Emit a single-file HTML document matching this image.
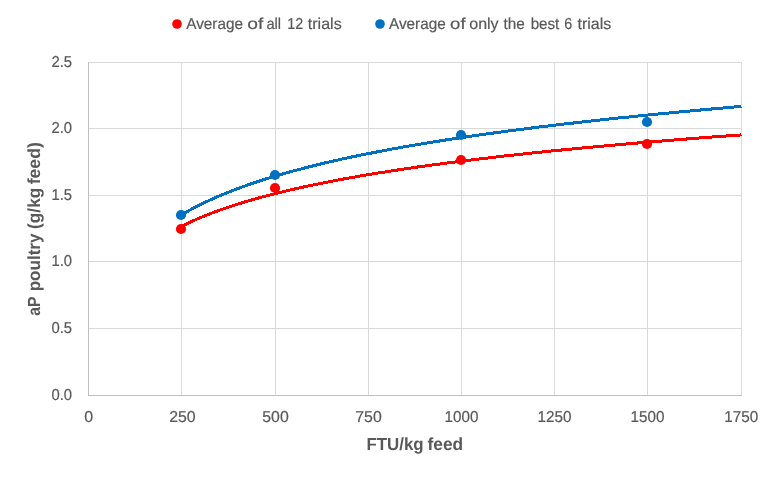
<!DOCTYPE html>
<html lang="en">
<head>
<meta charset="utf-8">
<title>aP poultry vs FTU/kg feed</title>
<style>
html,body{margin:0;padding:0;background:#fff;}
body{width:774px;height:477px;overflow:hidden;}
svg{display:block;}
text{font-family:"Liberation Sans",sans-serif;fill:#595959;text-rendering:geometricPrecision;white-space:pre;}
.t{font-size:15.8px;stroke:#595959;stroke-width:0.2px;}
.b{font-size:17.5px;font-weight:bold;}
</style>
</head>
<body>
<svg width="774" height="477" viewBox="0 0 774 477">
<rect x="0" y="0" width="774" height="477" fill="#ffffff"/>
<g fill="#d9d9d9" shape-rendering="crispEdges"><rect x="181" y="62" width="1" height="333"/><rect x="275" y="62" width="1" height="333"/><rect x="368" y="62" width="1" height="333"/><rect x="461" y="62" width="1" height="333"/><rect x="554" y="62" width="1" height="333"/><rect x="647" y="62" width="1" height="333"/><rect x="741" y="62" width="1" height="333"/><rect x="88" y="62" width="654" height="1"/><rect x="88" y="128" width="654" height="1"/><rect x="88" y="195" width="654" height="1"/><rect x="88" y="261" width="654" height="1"/><rect x="88" y="328" width="654" height="1"/></g>
<g fill="#bfbfbf" shape-rendering="crispEdges"><rect x="88" y="62" width="1" height="334"/><rect x="88" y="395" width="654" height="1"/></g>
<polyline points="181.8,226.2 186.4,223.9 191.1,221.7 195.8,219.6 200.4,217.6 205.1,215.7 209.8,213.9 214.4,212.1 219.1,210.4 223.8,208.8 228.4,207.2 233.1,205.6 237.8,204.1 242.4,202.7 247.1,201.3 251.8,199.9 256.4,198.6 261.1,197.3 265.7,196.1 270.4,194.9 275.1,193.7 279.7,192.5 284.4,191.4 289.1,190.3 293.7,189.2 298.4,188.1 303.1,187.1 307.7,186.1 312.4,185.1 317.0,184.2 321.7,183.2 326.4,182.3 331.0,181.4 335.7,180.5 340.4,179.6 345.0,178.7 349.7,177.9 354.4,177.1 359.0,176.2 363.7,175.4 368.4,174.6 373.0,173.9 377.7,173.1 382.4,172.4 387.0,171.6 391.7,170.9 396.3,170.2 401.0,169.5 405.7,168.8 410.3,168.1 415.0,167.4 419.7,166.7 424.3,166.1 429.0,165.4 433.7,164.8 438.3,164.2 443.0,163.6 447.7,162.9 452.3,162.3 457.0,161.7 461.6,161.1 466.3,160.6 471.0,160.0 475.6,159.4 480.3,158.9 485.0,158.3 489.6,157.8 494.3,157.2 499.0,156.7 503.6,156.1 508.3,155.6 513.0,155.1 517.6,154.6 522.3,154.1 526.9,153.6 531.6,153.1 536.3,152.6 540.9,152.1 545.6,151.6 550.3,151.1 554.9,150.7 559.6,150.2 564.3,149.7 568.9,149.3 573.6,148.8 578.2,148.4 582.9,147.9 587.6,147.5 592.2,147.1 596.9,146.6 601.6,146.2 606.2,145.8 610.9,145.4 615.6,144.9 620.2,144.5 624.9,144.1 629.6,143.7 634.2,143.3 638.9,142.9 643.5,142.5 648.2,142.1 652.9,141.7 657.5,141.3 662.2,141.0 666.9,140.6 671.5,140.2 676.2,139.8 680.9,139.5 685.5,139.1 690.2,138.7 694.9,138.4 699.5,138.0 704.2,137.6 708.9,137.3 713.5,136.9 718.2,136.6 722.8,136.2 727.5,135.9 732.2,135.6 736.8,135.2 741.5,134.9" fill="none" stroke="#ff0000" stroke-width="3" stroke-linecap="butt" stroke-linejoin="round" shape-rendering="crispEdges"/>
<polyline points="181.8,214.8 186.4,212.0 191.1,209.4 195.8,207.0 200.4,204.6 205.1,202.3 209.8,200.1 214.4,198.0 219.1,196.0 223.8,194.1 228.4,192.2 233.1,190.4 237.8,188.6 242.4,186.9 247.1,185.2 251.8,183.6 256.4,182.0 261.1,180.5 265.7,179.0 270.4,177.6 275.1,176.2 279.7,174.8 284.4,173.4 289.1,172.1 293.7,170.9 298.4,169.6 303.1,168.4 307.7,167.2 312.4,166.0 317.0,164.9 321.7,163.7 326.4,162.6 331.0,161.6 335.7,160.5 340.4,159.4 345.0,158.4 349.7,157.4 354.4,156.4 359.0,155.5 363.7,154.5 368.4,153.6 373.0,152.7 377.7,151.8 382.4,150.9 387.0,150.0 391.7,149.1 396.3,148.3 401.0,147.4 405.7,146.6 410.3,145.8 415.0,145.0 419.7,144.2 424.3,143.4 429.0,142.7 433.7,141.9 438.3,141.2 443.0,140.4 447.7,139.7 452.3,139.0 457.0,138.3 461.6,137.6 466.3,136.9 471.0,136.2 475.6,135.5 480.3,134.8 485.0,134.2 489.6,133.5 494.3,132.9 499.0,132.3 503.6,131.6 508.3,131.0 513.0,130.4 517.6,129.8 522.3,129.2 526.9,128.6 531.6,128.0 536.3,127.4 540.9,126.8 545.6,126.3 550.3,125.7 554.9,125.1 559.6,124.6 564.3,124.0 568.9,123.5 573.6,123.0 578.2,122.4 582.9,121.9 587.6,121.4 592.2,120.9 596.9,120.3 601.6,119.8 606.2,119.3 610.9,118.8 615.6,118.3 620.2,117.8 624.9,117.4 629.6,116.9 634.2,116.4 638.9,115.9 643.5,115.5 648.2,115.0 652.9,114.5 657.5,114.1 662.2,113.6 666.9,113.2 671.5,112.7 676.2,112.3 680.9,111.8 685.5,111.4 690.2,111.0 694.9,110.5 699.5,110.1 704.2,109.7 708.9,109.3 713.5,108.8 718.2,108.4 722.8,108.0 727.5,107.6 732.2,107.2 736.8,106.8 741.5,106.4" fill="none" stroke="#0070c0" stroke-width="3" stroke-linecap="butt" stroke-linejoin="round" shape-rendering="crispEdges"/>
<g fill="#ff0000"><circle cx="181.0" cy="229.0" r="5.1"/><circle cx="275.0" cy="188.0" r="5.1"/><circle cx="461.0" cy="160.0" r="5.1"/><circle cx="647.0" cy="144.0" r="5.1"/></g>
<g fill="#0070c0"><circle cx="181.0" cy="215.0" r="5.1"/><circle cx="275.0" cy="175.0" r="5.1"/><circle cx="461.0" cy="135.0" r="5.1"/><circle cx="647.0" cy="122.0" r="5.1"/></g>
<circle cx="177" cy="24" r="4.8" fill="#ff0000"/>
<circle cx="380" cy="24" r="4.8" fill="#0070c0"/>
<g class="t">
<text y="29.0"><tspan x="186.20" textLength="56.79" lengthAdjust="spacingAndGlyphs">Average</tspan> <tspan x="247.20" textLength="16.06" lengthAdjust="spacingAndGlyphs">of</tspan> <tspan x="266.40" textLength="14.69" lengthAdjust="spacingAndGlyphs">all</tspan> <tspan x="287.20" textLength="15.90" lengthAdjust="spacingAndGlyphs">12</tspan> <tspan x="307.80" textLength="33.91" lengthAdjust="spacingAndGlyphs">trials</tspan></text>
<text y="29.0"><tspan x="389.00" textLength="56.79" lengthAdjust="spacingAndGlyphs">Average</tspan> <tspan x="450.10" textLength="15.46" lengthAdjust="spacingAndGlyphs">of</tspan> <tspan x="469.30" textLength="29.31" lengthAdjust="spacingAndGlyphs">only</tspan> <tspan x="503.40" textLength="21.30" lengthAdjust="spacingAndGlyphs">the</tspan> <tspan x="530.70" textLength="28.60" lengthAdjust="spacingAndGlyphs">best</tspan> <tspan x="564.20" textLength="8.00" lengthAdjust="spacingAndGlyphs">6</tspan> <tspan x="577.50" textLength="33.81" lengthAdjust="spacingAndGlyphs">trials</tspan></text>
<text x="51.40" y="67.0" textLength="20.60" lengthAdjust="spacingAndGlyphs">2.5</text><text x="51.40" y="133.0" textLength="20.60" lengthAdjust="spacingAndGlyphs">2.0</text><text x="51.40" y="200.0" textLength="20.60" lengthAdjust="spacingAndGlyphs">1.5</text><text x="51.40" y="266.0" textLength="20.60" lengthAdjust="spacingAndGlyphs">1.0</text><text x="51.40" y="333.0" textLength="20.60" lengthAdjust="spacingAndGlyphs">0.5</text><text x="51.40" y="400.0" textLength="20.60" lengthAdjust="spacingAndGlyphs">0.0</text>
<text x="84.25" y="421.7" textLength="8.90" lengthAdjust="spacingAndGlyphs">0</text><text x="169.20" y="421.7" textLength="26.41" lengthAdjust="spacingAndGlyphs">250</text><text x="262.30" y="421.7" textLength="26.41" lengthAdjust="spacingAndGlyphs">500</text><text x="355.30" y="421.7" textLength="26.41" lengthAdjust="spacingAndGlyphs">750</text><text x="444.55" y="421.7" textLength="33.89" lengthAdjust="spacingAndGlyphs">1000</text><text x="537.55" y="421.7" textLength="33.89" lengthAdjust="spacingAndGlyphs">1250</text><text x="630.55" y="421.7" textLength="33.89" lengthAdjust="spacingAndGlyphs">1500</text><text x="724.35" y="421.7" textLength="33.89" lengthAdjust="spacingAndGlyphs">1750</text>
</g>
<g class="b">
<text y="450.4"><tspan x="366.40" textLength="57.29" lengthAdjust="spacingAndGlyphs">FTU/kg</tspan> <tspan x="427.50" textLength="35.60" lengthAdjust="spacingAndGlyphs">feed</tspan></text>
<text transform="translate(39.8 315.3) rotate(-90)" y="0"><tspan x="-0.40" textLength="18.90" lengthAdjust="spacingAndGlyphs">aP</tspan> <tspan x="24.00" textLength="57.79" lengthAdjust="spacingAndGlyphs">poultry</tspan> <tspan x="86.40" textLength="41.19" lengthAdjust="spacingAndGlyphs">(g/kg</tspan> <tspan x="131.00" textLength="42.10" lengthAdjust="spacingAndGlyphs">feed)</tspan></text>
</g>
</svg>
</body>
</html>
